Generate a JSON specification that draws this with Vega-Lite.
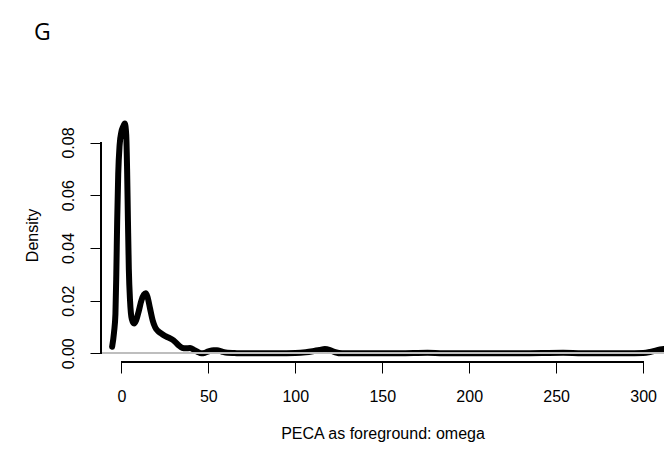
{
  "$schema": "https://vega.github.io/schema/vega-lite/v6.json",
  "width": 563,
  "height": 249,
  "autosize": {"type": "none"},
  "padding": {"left": 101, "top": 113, "right": 0, "bottom": 91},
  "background": "white",
  "config": {
    "view": {"stroke": null},
    "font": "Liberation Sans"
  },
  "title": {
    "text": "G",
    "anchor": "start",
    "frame": "group",
    "font": "Open Sans",
    "fontSize": 23,
    "fontWeight": "normal",
    "color": "black",
    "baseline": "alphabetic",
    "offset": 50,
    "dx": -67
  },
  "data": {
    "values": [
      {"omega": -5.3, "density": 0.0025},
      {"omega": -4.2, "density": 0.008},
      {"omega": -3.4, "density": 0.015},
      {"omega": -2.9, "density": 0.03},
      {"omega": -2.4, "density": 0.05},
      {"omega": -1.8, "density": 0.068},
      {"omega": -1.0, "density": 0.079},
      {"omega": 0.0, "density": 0.084},
      {"omega": 1.0, "density": 0.086},
      {"omega": 2.0, "density": 0.0872},
      {"omega": 2.8, "density": 0.083},
      {"omega": 3.3, "density": 0.07},
      {"omega": 3.8, "density": 0.05},
      {"omega": 4.3, "density": 0.032},
      {"omega": 5.0, "density": 0.02},
      {"omega": 6.0, "density": 0.013},
      {"omega": 7.3, "density": 0.0113},
      {"omega": 8.5, "density": 0.0125},
      {"omega": 10.0, "density": 0.016},
      {"omega": 11.5, "density": 0.02},
      {"omega": 13.0, "density": 0.0223},
      {"omega": 14.0, "density": 0.0228},
      {"omega": 15.0, "density": 0.0215},
      {"omega": 16.5, "density": 0.017},
      {"omega": 18.0, "density": 0.0125},
      {"omega": 19.5, "density": 0.0098},
      {"omega": 21.0, "density": 0.0085},
      {"omega": 23.0, "density": 0.0075},
      {"omega": 25.0, "density": 0.0066},
      {"omega": 27.0, "density": 0.006},
      {"omega": 29.0, "density": 0.0053},
      {"omega": 31.0, "density": 0.0043},
      {"omega": 33.0, "density": 0.003},
      {"omega": 35.0, "density": 0.0021},
      {"omega": 37.0, "density": 0.0019},
      {"omega": 39.5, "density": 0.002},
      {"omega": 42.0, "density": 0.0012},
      {"omega": 44.0, "density": 0.0005},
      {"omega": 46.0, "density": 0.0},
      {"omega": 48.0, "density": 0.0002},
      {"omega": 50.0, "density": 0.0007},
      {"omega": 53.0, "density": 0.0012},
      {"omega": 55.0, "density": 0.0012},
      {"omega": 58.0, "density": 0.0006},
      {"omega": 61.0, "density": 0.0002},
      {"omega": 65.0, "density": 0.0001},
      {"omega": 70.0, "density": 0.0},
      {"omega": 80.0, "density": 0.0},
      {"omega": 90.0, "density": 0.0},
      {"omega": 100.0, "density": 0.0001},
      {"omega": 106.0, "density": 0.0004},
      {"omega": 110.0, "density": 0.0008},
      {"omega": 114.0, "density": 0.0013},
      {"omega": 117.0, "density": 0.0016},
      {"omega": 120.0, "density": 0.0012},
      {"omega": 123.0, "density": 0.0004},
      {"omega": 127.0, "density": 0.0},
      {"omega": 140.0, "density": 0.0},
      {"omega": 160.0, "density": 0.0},
      {"omega": 176.0, "density": 0.0002},
      {"omega": 185.0, "density": 0.0},
      {"omega": 200.0, "density": 0.0},
      {"omega": 230.0, "density": 0.0},
      {"omega": 254.0, "density": 0.0002},
      {"omega": 265.0, "density": 0.0},
      {"omega": 290.0, "density": 0.0},
      {"omega": 300.0, "density": 0.0001},
      {"omega": 304.0, "density": 0.0005},
      {"omega": 308.0, "density": 0.0012},
      {"omega": 312.0, "density": 0.0016}
    ]
  },
  "layer": [
    {
      "mark": {"type": "line", "color": "black", "strokeWidth": 6, "strokeCap": "round", "strokeJoin": "round", "interpolate": "monotone"},
      "encoding": {
        "x": {
          "field": "omega", "type": "quantitative",
          "scale": {"domain": [-11.7, 312], "nice": false, "zero": false},
          "axis": {
            "orient": "bottom",
            "title": "PECA as foreground: omega",
            "values": [0, 50, 100, 150, 200, 250, 300],
            "domain": false,
            "grid": false,
            "ticks": true,
            "tickSize": 11,
            "tickColor": "black",
            "tickWidth": 1,
            "labelFont": "Liberation Sans",
            "labelFontSize": 16,
            "labelColor": "black",
            "labelPadding": 15,
            "labelFlush": false,
            "labelOverlap": false,
            "titleFont": "Liberation Sans",
            "titleFontSize": 16,
            "titleFontWeight": "normal",
            "titleColor": "black",
            "titleY": 71,
            "titleBaseline": "middle"
          }
        },
        "y": {
          "field": "density", "type": "quantitative",
          "scale": {"domain": [-0.0033, 0.0912], "nice": false, "zero": false},
          "axis": {
            "orient": "left",
            "title": "Density",
            "values": [0, 0.02, 0.04, 0.06, 0.08],
            "format": ".2f",
            "domain": false,
            "grid": false,
            "ticks": true,
            "tickSize": 11,
            "tickColor": "black",
            "tickWidth": 1,
            "labelAngle": -90,
            "labelAlign": "center",
            "labelBaseline": "middle",
            "labelFont": "Liberation Sans",
            "labelFontSize": 16,
            "labelColor": "black",
            "labelPadding": 22,
            "labelFlush": false,
            "labelOverlap": false,
            "titleFont": "Liberation Sans",
            "titleFontSize": 16,
            "titleFontWeight": "normal",
            "titleColor": "black",
            "titleX": -69,
            "titleY": 122,
            "titleAngle": -90,
            "titleAlign": "center",
            "titleBaseline": "middle"
          }
        }
      }
    },
    {
      "mark": {"type": "rule", "color": "#bebebe", "strokeWidth": 1},
      "encoding": {"y": {"datum": 0}}
    },
    {
      "mark": {"type": "rule", "color": "black", "strokeWidth": 1},
      "encoding": {"x": {"datum": -11.7}, "y": {"datum": 0}, "y2": {"datum": 0.08}}
    },
    {
      "mark": {"type": "rule", "color": "black", "strokeWidth": 1},
      "encoding": {"y": {"datum": -0.0033}, "x": {"datum": 0}, "x2": {"datum": 300}}
    }
  ]
}
